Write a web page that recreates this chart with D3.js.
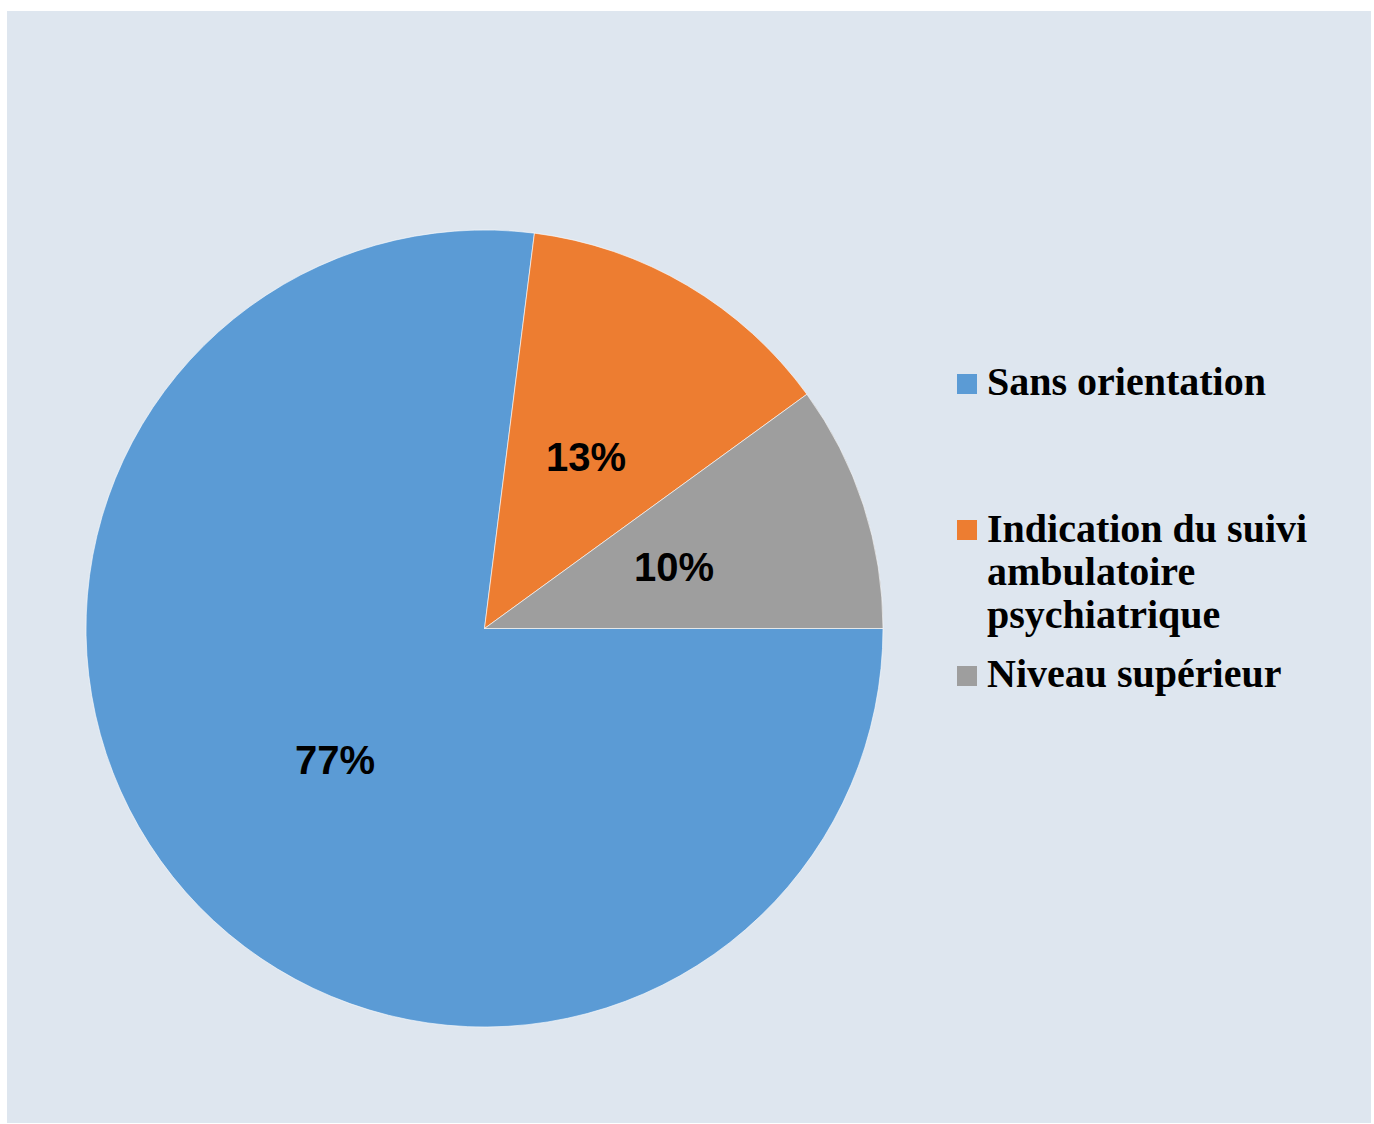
<!DOCTYPE html>
<html>
<head>
<meta charset="utf-8">
<script src="https://cdn.jsdelivr.net/npm/d3@7"></script>
<style>
  html, body { margin: 0; padding: 0; background: #ffffff; }
  svg { display: block; }
</style>
</head>
<body>
<svg id="chart" width="1374" height="1124"></svg>
<script>
// Répartition des orientations (en %)
const categories = ["Sans orientation", "Indication du suivi ambulatoire psychiatrique", "Niveau supérieur"];
const values = [77, 13, 10];
const valueLabels = ["77%", "13%", "10%"];
const legendLines = [["Sans orientation"], ["Indication du suivi", "ambulatoire", "psychiatrique"], ["Niveau supérieur"]];
const colors = ["#5b9bd5", "#ed7d31", "#9e9e9e"];

const svg = d3.select("#chart");

// Chart area background
svg.append("rect")
  .attr("x", 7).attr("y", 11)
  .attr("width", 1364).attr("height", 1112)
  .attr("fill", "#dee6ef");

const cx = 484.5, cy = 628.5, radius = 398.5;

const pie = d3.pie()
  .value(d => d)
  .sort(null)
  .startAngle(Math.PI / 2)
  .endAngle(Math.PI / 2 + 2 * Math.PI);

const arc = d3.arc().innerRadius(0).outerRadius(radius);

const arcs = pie(values);

const g = svg.append("g").attr("transform", `translate(${cx},${cy})`);

g.selectAll("path.slice")
  .data(arcs)
  .join("path")
  .attr("class", "slice")
  .attr("d", arc)
  .attr("fill", (d, i) => colors[i])
  .attr("stroke", "rgba(255,255,255,0.6)")
  .attr("stroke-width", 1);

g.selectAll("text.value")
  .data(arcs)
  .join("text")
  .attr("class", "value")
  .attr("transform", d => `translate(${arc.centroid(d)})`)
  .attr("text-anchor", "middle")
  .attr("dominant-baseline", "central")
  .attr("font-family", "'Liberation Sans', Arial, sans-serif")
  .attr("font-weight", "bold")
  .attr("font-size", 40)
  .attr("fill", "#000000")
  .text((d, i) => valueLabels[i]);

// Legend
const legendItems = [
  { square: 374, baseline: 395 },
  { square: 520, baseline: 542 },
  { square: 666, baseline: 687 }
];

const legend = svg.append("g");
legendItems.forEach((it, i) => {
  legend.append("rect")
    .attr("x", 957).attr("y", it.square)
    .attr("width", 20).attr("height", 20)
    .attr("fill", colors[i]);
  const t = legend.append("text")
    .attr("x", 987).attr("y", it.baseline)
    .attr("font-family", "'Liberation Serif', 'Times New Roman', serif")
    .attr("font-weight", "bold")
    .attr("font-size", 40)
    .attr("fill", "#000000");
  legendLines[i].forEach((line, j) => {
    t.append("tspan")
      .attr("x", 987)
      .attr("dy", j === 0 ? 0 : 43)
      .text(line);
  });
});
</script>
</body>
</html>
